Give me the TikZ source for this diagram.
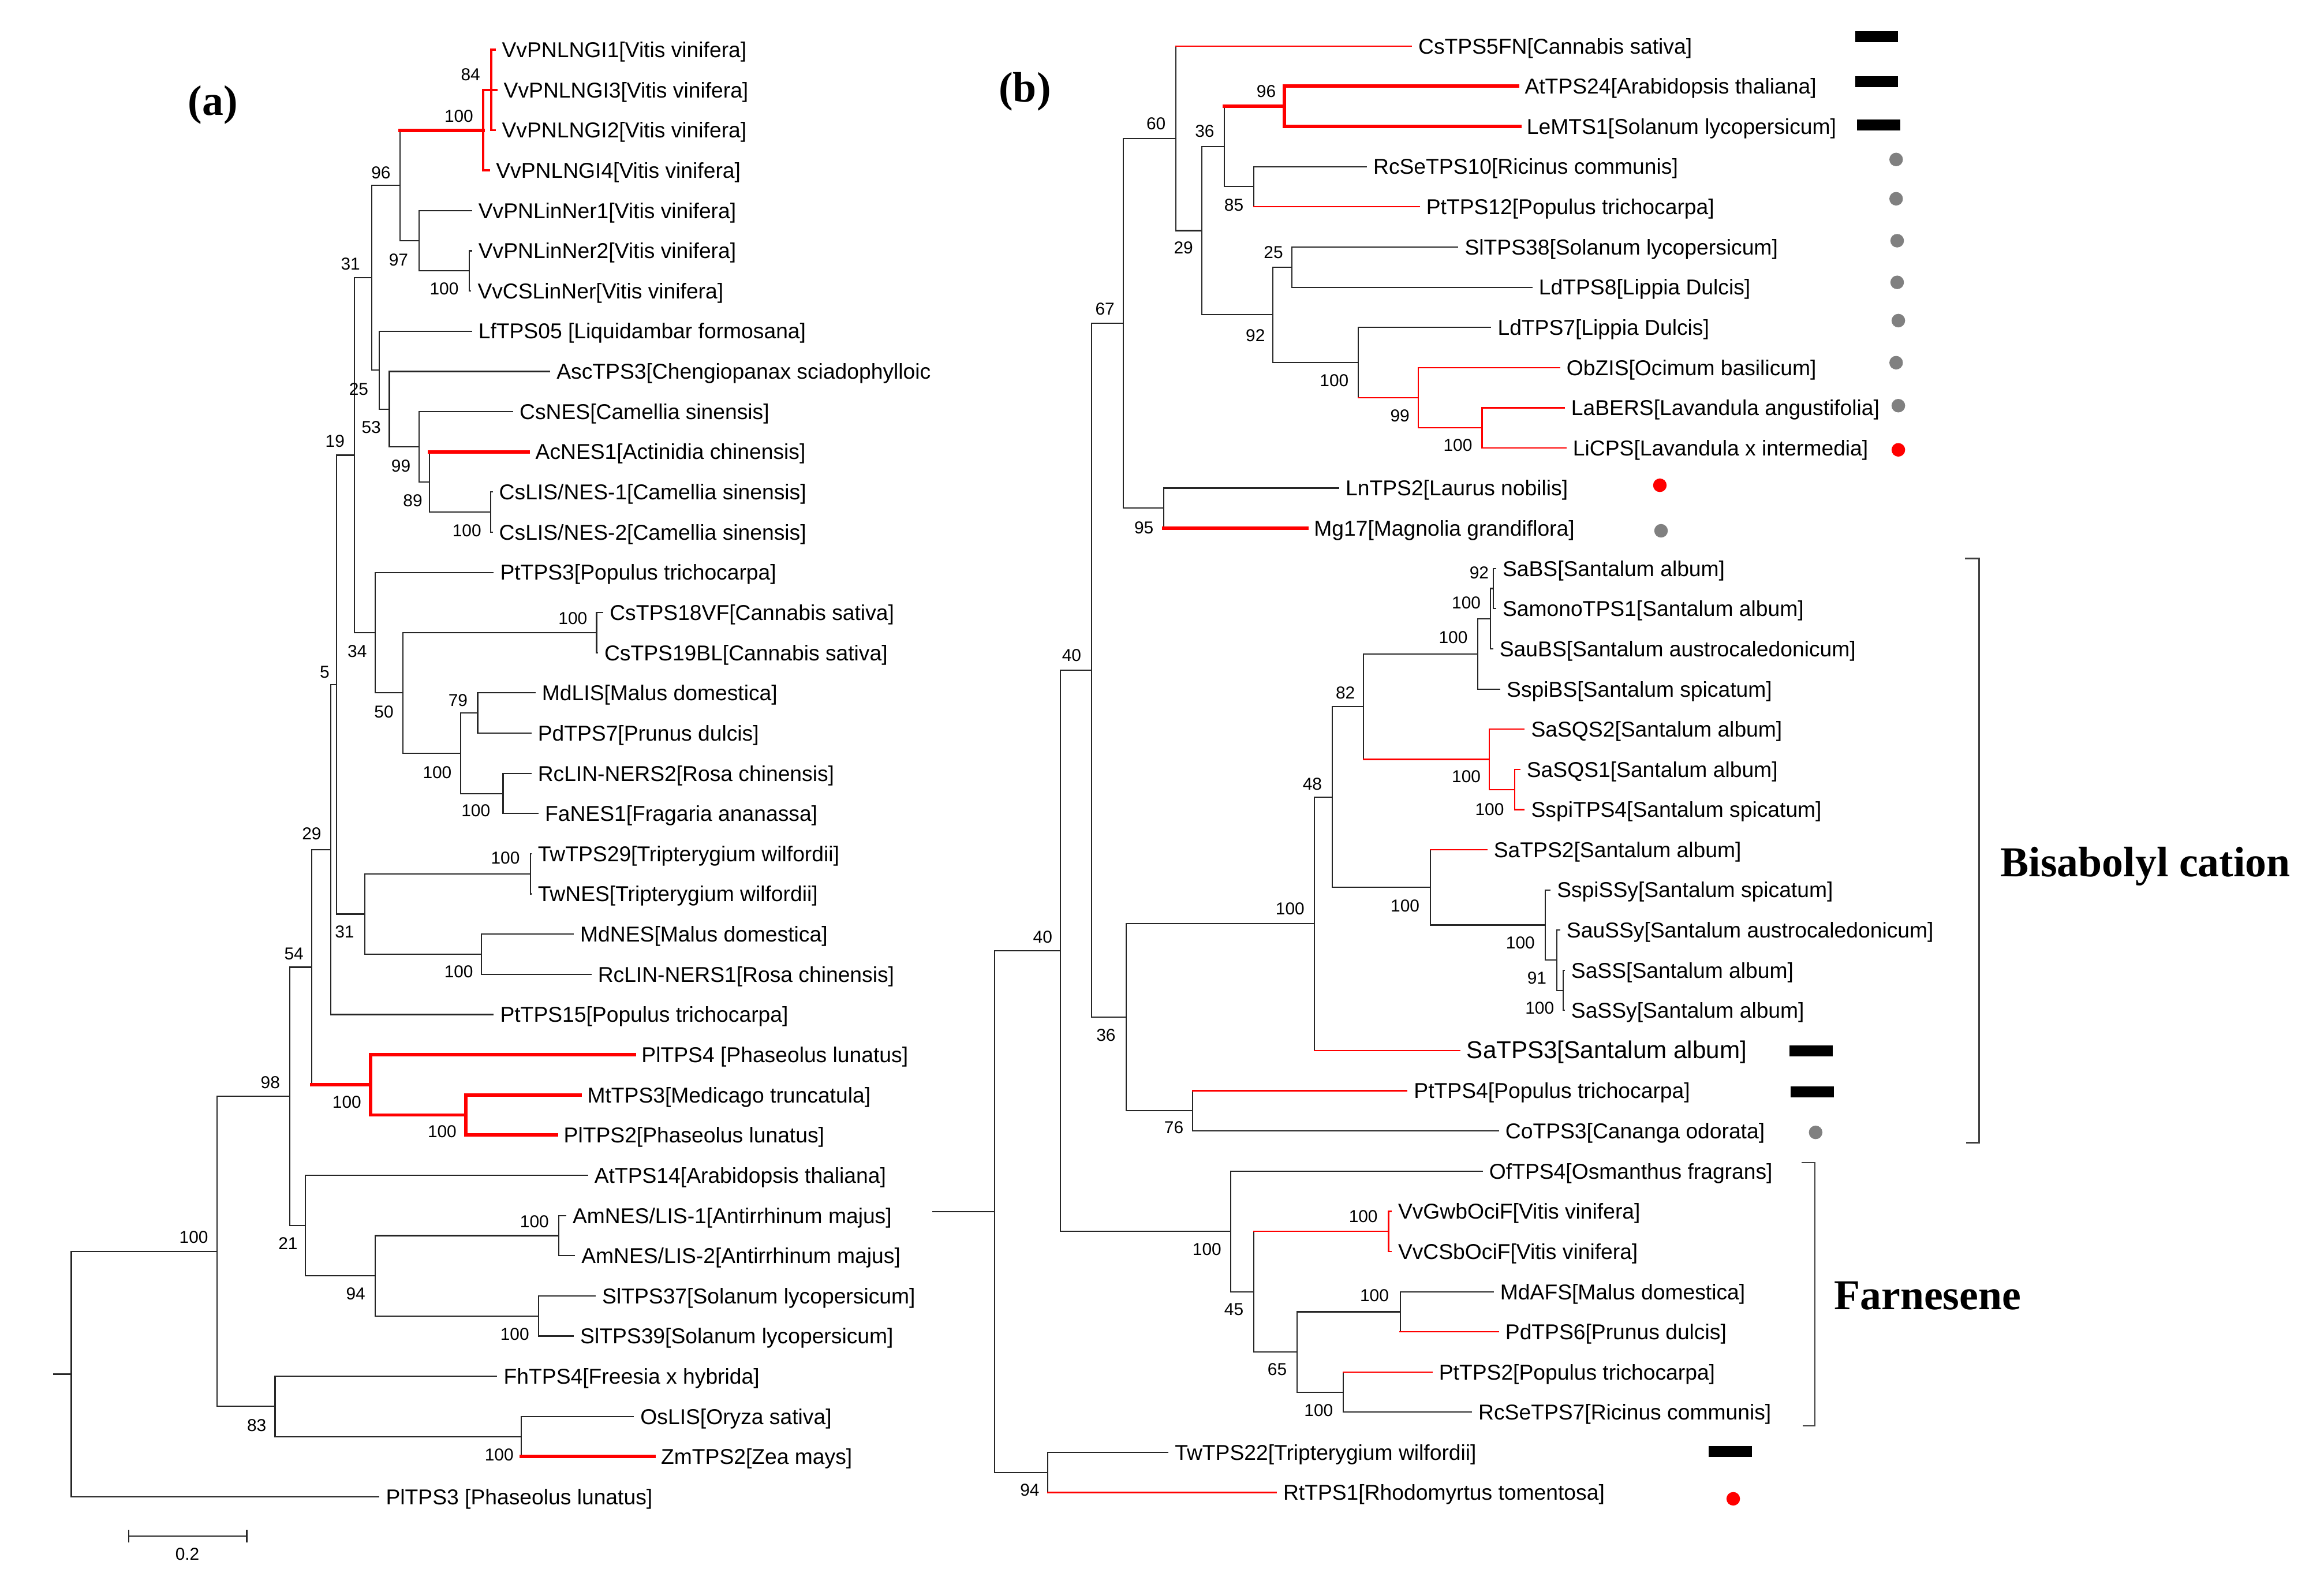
\documentclass[tikz,border=0pt]{standalone}
\usepackage{fontspec}
\setmainfont{Liberation Sans}
\newfontfamily\headfont{Liberation Serif}
\begin{document}
\begin{tikzpicture}[x=0.025676cm,y=-0.025676cm,
    taxon/.style={anchor=west,inner xsep=3.3pt,inner ysep=0pt,text height=7.6pt,text depth=0pt,font=\fontsize{10.6}{12}\selectfont},
    boot/.style={inner sep=0pt,font=\fontsize{8.5}{10}\selectfont},
    branch/.style={draw=black!85,line width=0.6pt,line cap=rect},
    redthin/.style={draw=red,line width=0.65pt,line cap=rect},
    redmid/.style={draw=red,line width=1.1pt,line cap=rect},
    redthick/.style={draw=red,line width=1.7pt,line cap=rect},
    bracket/.style={draw=black!75,line width=0.7pt},
    blackbar/.style={fill=black,minimum width=0.745cm,minimum height=0.19cm,inner sep=0pt},
    graydot/.style={circle,fill=black!50,minimum size=0.235cm,inner sep=0pt},
    reddot/.style={circle,fill=red,minimum size=0.235cm,inner sep=0pt},
    panel/.style={font=\headfont\bfseries\fontsize{21}{24}\selectfont,inner sep=0pt}]
\useasboundingbox (0,0) rectangle (1568,1068.7);

\node[panel] (pa) at (143.6,70.8) {(a)};
\node[panel] (pb) at (691.5,62) {(b)};

\node[taxon] (l1) at (333.9,33.6) {VvPNLNGI1[Vitis vinifera]};
\node[taxon] (l2) at (335.1,60.7) {VvPNLNGI3[Vitis vinifera]};
\node[taxon] (l3) at (333.9,87.8) {VvPNLNGI2[Vitis vinifera]};
\node[taxon] (l4) at (329.9,115.0) {VvPNLNGI4[Vitis vinifera]};
\node[taxon] (l5) at (318.0,142.1) {VvPNLinNer1[Vitis vinifera]};
\node[taxon] (l6) at (318.0,169.2) {VvPNLinNer2[Vitis vinifera]};
\node[taxon] (l7) at (317.5,196.3) {VvCSLinNer[Vitis vinifera]};
\node[taxon] (l8) at (318.0,223.4) {LfTPS05 [Liquidambar formosana]};
\begin{scope}
\clip (0,0) rectangle (628,1068.7);
\node[taxon] (l9) at (370.8,250.6) {AscTPS3[Chengiopanax sciadophylloic};
\end{scope}
\node[taxon] (l10) at (345.8,277.7) {CsNES[Camellia sinensis]};
\node[taxon] (l11) at (356.5,304.8) {AcNES1[Actinidia chinensis]};
\node[taxon] (l12) at (332.0,331.9) {CsLIS/NES-1[Camellia sinensis]};
\node[taxon] (l13) at (332.0,359.0) {CsLIS/NES-2[Camellia sinensis]};
\node[taxon] (l14) at (332.7,386.2) {PtTPS3[Populus trichocarpa]};
\node[taxon] (l15) at (406.6,413.3) {CsTPS18VF[Cannabis sativa]};
\node[taxon] (l16) at (403.0,440.4) {CsTPS19BL[Cannabis sativa]};
\node[taxon] (l17) at (360.9,467.5) {MdLIS[Malus domestica]};
\node[taxon] (l18) at (358.1,494.6) {PdTPS7[Prunus dulcis]};
\node[taxon] (l19) at (358.1,521.8) {RcLIN-NERS2[Rosa chinensis]};
\node[taxon] (l20) at (362.9,548.9) {FaNES1[Fragaria ananassa]};
\node[taxon] (l21) at (358.1,576.0) {TwTPS29[Tripterygium wilfordii]};
\node[taxon] (l22) at (358.1,603.1) {TwNES[Tripterygium wilfordii]};
\node[taxon] (l23) at (386.7,630.2) {MdNES[Malus domestica]};
\node[taxon] (l24) at (398.6,657.4) {RcLIN-NERS1[Rosa chinensis]};
\node[taxon] (l25) at (332.7,684.5) {PtTPS15[Populus trichocarpa]};
\node[taxon] (l26) at (428.1,711.6) {PlTPS4 [Phaseolus lunatus]};
\node[taxon] (l27) at (391.5,738.7) {MtTPS3[Medicago truncatula]};
\node[taxon] (l28) at (375.6,765.8) {PlTPS2[Phaseolus lunatus]};
\node[taxon] (l29) at (396.3,793.0) {AtTPS14[Arabidopsis thaliana]};
\node[taxon] (l30) at (381.6,820.1) {AmNES/LIS-1[Antirrhinum majus]};
\node[taxon] (l31) at (387.5,847.2) {AmNES/LIS-2[Antirrhinum majus]};
\node[taxon] (l32) at (401.5,874.3) {SlTPS37[Solanum lycopersicum]};
\node[taxon] (l33) at (386.7,901.4) {SlTPS39[Solanum lycopersicum]};
\node[taxon] (l34) at (335.1,928.6) {FhTPS4[Freesia x hybrida]};
\node[taxon] (l35) at (427.3,955.7) {OsLIS[Oryza sativa]};
\node[taxon] (l36) at (441.2,982.8) {ZmTPS2[Zea mays]};
\node[taxon] (l37) at (255.6,1009.9) {PlTPS3 [Phaseolus lunatus]};

\coordinate (aStub) at (36.2,927.1);
\coordinate (aRoot) at (48.1,927.1);
\coordinate (a100) at (146.6,844.3);
\coordinate (a98) at (195.5,739.7);
\coordinate (a83) at (185.6,948.9);
\coordinate (aOs) at (351.7,969.25);
\coordinate (a54) at (210.2,652.55);
\coordinate (a21) at (206.2,826.9);
\coordinate (a94) at (253.1,860.75);
\coordinate (aAm) at (377.1,833.65);
\coordinate (aSl) at (363.2,887.85);
\coordinate (a29) at (223,573.2);
\coordinate (aPl) at (250,731.9);
\coordinate (aMt) at (314.3,752.25);
\coordinate (a5) at (226.9,461.9);
\coordinate (a31b) at (246,616.7);
\coordinate (aTw) at (358,589.55);
\coordinate (aMd) at (324.7,643.8);
\coordinate (a19) at (239.2,307.1);
\coordinate (a31) at (250.8,187.4);
\coordinate (a96) at (269.8,125.1);
\coordinate (aVv4) at (326,87.85);
\coordinate (aVv3) at (331.4,60.7);
\coordinate (a97) at (282.6,162.4);
\coordinate (aLin) at (316.7,182.75);
\coordinate (a25) at (255.9,249.7);
\coordinate (a53) at (262.7,276.0);
\coordinate (a99) at (282.6,301.4);
\coordinate (a89) at (289.7,325.1);
\coordinate (aCs) at (331,345.45);
\coordinate (a34) at (253.2,426.85);
\coordinate (a50) at (271.8,467.5);
\coordinate (aCan) at (402.5,426.85);
\coordinate (aRos) at (310.8,508.2);
\coordinate (a79) at (322.3,481.05);
\coordinate (aFa) at (339.4,535.35);

\draw[branch] (aStub) -- (aRoot);
\draw[branch] (a100) -| (aRoot |- l37.west) -- (l37.west);
\draw[branch] (a98) -| (a100 |- a83) -- (a83);
\draw[branch] (a54) -| (a98 |- a21) -- (a21);
\draw[branch] (a29) -| (a54 |- aPl);
\draw[redthick] (a54 |- aPl) -- (aPl);
\draw[redthick] (l26.west) -| (aPl |- aMt) -- (aMt);
\draw[redthick] (l27.west) -| (aMt |- l28.west) -- (l28.west);
\draw[branch] (a5) -| (a29 |- l25.west) -- (l25.west);
\draw[branch] (a19) -| (a5 |- a31b) -- (a31b);
\draw[branch] (aTw) -| (a31b |- aMd) -- (aMd);
\draw[branch] (l21.west) -| (aTw |- l22.west) -- (l22.west);
\draw[branch] (l23.west) -| (aMd |- l24.west) -- (l24.west);
\draw[branch] (a31) -| (a19 |- a34) -- (a34);
\draw[branch] (l14.west) -| (a34 |- a50) -- (a50);
\draw[branch] (aCan) -| (a50 |- aRos) -- (aRos);
\draw[branch] (l15.west) -| (aCan |- l16.west) -- (l16.west);
\draw[branch] (a79) -| (aRos |- aFa) -- (aFa);
\draw[branch] (l17.west) -| (a79 |- l18.west) -- (l18.west);
\draw[branch] (l19.west) -| (aFa |- l20.west) -- (l20.west);
\draw[branch] (a96) -| (a31 |- a25) -- (a25);
\draw[branch] (a96 |- aVv4) |- (a97);
\draw[redthick] (a96 |- aVv4) -- (aVv4);
\draw[redmid] (aVv3) -| (aVv4 |- l4.west) -- (l4.west);
\draw[redmid] (l1.west) -| (aVv3 |- l3.west) -- (l3.west);
\draw[redmid] (aVv3 |- l2.west) -- (l2.west);
\draw[branch] (l5.west) -| (a97 |- aLin) -- (aLin);
\draw[branch] (l6.west) -| (aLin |- l7.west) -- (l7.west);
\draw[branch] (l8.west) -| (a25 |- a53) -- (a53);
\draw[branch] (l9.west) -| (a53 |- a99) -- (a99);
\draw[branch] (l10.west) -| (a99 |- a89) -- (a89);
\draw[branch] (a89 |- l11.west) |- (aCs);
\draw[redthick] (a89 |- l11.west) -- (l11.west);
\draw[branch] (l12.west) -| (aCs |- l13.west) -- (l13.west);
\draw[branch] (l29.west) -| (a21 |- a94) -- (a94);
\draw[branch] (aAm) -| (a94 |- aSl) -- (aSl);
\draw[branch] (l30.west) -| (aAm |- l31.west) -- (l31.west);
\draw[branch] (l32.west) -| (aSl |- l33.west) -- (l33.west);
\draw[branch] (l34.west) -| (a83 |- aOs) -- (aOs);
\draw[branch] (l35.west) -| (aOs |- l36.west);
\draw[redthick] (aOs |- l36.west) -- (l36.west);

\node[boot] (a84b) at (317.5,50.5) {84};
\node[boot] (aVv4b) at (309.6,78.4) {100};
\node[boot] (a96b) at (257,116.4) {96};
\node[boot] (a97b) at (268.9,175.5) {97};
\node[boot] (aLinb) at (299.7,194.9) {100};
\node[boot] (a31b1) at (236.5,178) {31};
\node[boot] (a25b) at (242,262.5) {25};
\node[boot] (a53b) at (250.5,288.2) {53};
\node[boot] (a99b) at (270.5,314.3) {99};
\node[boot] (a89b) at (278.5,337.8) {89};
\node[boot] (aCsb) at (315,358) {100};
\node[boot] (a19b) at (226,297.8) {19};
\node[boot] (a34b) at (241,439.5) {34};
\node[boot] (a50b) at (259,480.4) {50};
\node[boot] (aCanb) at (386.5,417.3) {100};
\node[boot] (aRosb) at (295,521) {100};
\node[boot] (a79b) at (309,472.6) {79};
\node[boot] (aFab) at (321,547) {100};
\node[boot] (a5b) at (219,453.4) {5};
\node[boot] (a29b) at (210.3,562.6) {29};
\node[boot] (a31b2) at (232.5,628.7) {31};
\node[boot] (aTwb) at (341,579) {100};
\node[boot] (aMdb) at (309.5,655.7) {100};
\node[boot] (a54b) at (198.3,643.5) {54};
\node[boot] (aPlb) at (234,743.5) {100};
\node[boot] (aMtb) at (298.3,763.5) {100};
\node[boot] (a98b) at (182.4,730.4) {98};
\node[boot] (a21b) at (194.3,839) {21};
\node[boot] (a94b) at (240,872.8) {94};
\node[boot] (aAmb) at (360.6,824.1) {100};
\node[boot] (aSlb) at (347.3,900) {100};
\node[boot] (a83b) at (173.2,961.5) {83};
\node[boot] (aOsb) at (336.8,981.6) {100};
\node[boot] (a100b) at (130.7,834.8) {100};

\draw[branch] (87,1032.4) -- (87,1040.4) (87,1036.4) -- (166.5,1036.4) (166.5,1032.4) -- (166.5,1040.4);
\node[boot] (sbar) at (126.4,1048.4) {0.2};

\node[taxon] (r1) at (952.2,31.1) {CsTPS5FN[Cannabis sativa]};
\node[taxon] (r2) at (1024.0,58.2) {AtTPS24[Arabidopsis thaliana]};
\node[taxon] (r3) at (1025.3,85.3) {LeMTS1[Solanum lycopersicum]};
\node[taxon] (r4) at (921.8,112.4) {RcSeTPS10[Ricinus communis]};
\node[taxon] (r5) at (957.5,139.5) {PtTPS12[Populus trichocarpa]};
\node[taxon] (r6) at (983.5,166.7) {SlTPS38[Solanum lycopersicum]};
\node[taxon] (r7) at (1033.5,193.8) {LdTPS8[Lippia Dulcis]};
\node[taxon] (r8) at (1005.7,220.9) {LdTPS7[Lippia Dulcis]};
\node[taxon] (r9) at (1052.2,248.0) {ObZIS[Ocimum basilicum]};
\node[taxon] (r10) at (1055.3,275.1) {LaBERS[Lavandula angustifolia]};
\node[taxon] (r11) at (1056.5,302.2) {LiCPS[Lavandula x intermedia]};
\node[taxon] (r12) at (903.1,329.3) {LnTPS2[Laurus nobilis]};
\node[taxon] (r13) at (881.8,356.4) {Mg17[Magnolia grandiflora]};
\node[taxon] (r14) at (1009,383.5) {SaBS[Santalum album]};
\node[taxon] (r15) at (1009,410.6) {SamonoTPS1[Santalum album]};
\node[taxon] (r16) at (1007,437.7) {SauBS[Santalum austrocaledonicum]};
\node[taxon] (r17) at (1011.8,464.9) {SspiBS[Santalum spicatum]};
\node[taxon] (r18) at (1028.3,492.0) {SaSQS2[Santalum album]};
\node[taxon] (r19) at (1025.3,519.1) {SaSQS1[Santalum album]};
\node[taxon] (r20) at (1028.3,546.2) {SspiTPS4[Santalum spicatum]};
\node[taxon] (r21) at (1003.1,573.3) {SaTPS2[Santalum album]};
\node[taxon] (r22) at (1045.7,600.4) {SspiSSy[Santalum spicatum]};
\node[taxon] (r23) at (1052.2,627.5) {SauSSy[Santalum austrocaledonicum]};
\node[taxon] (r24) at (1055.3,654.6) {SaSS[Santalum album]};
\node[taxon] (r25) at (1055.3,681.7) {SaSSy[Santalum album]};
\node[taxon,font=\fontsize{12}{14}\selectfont] (r26) at (984.8,708.8) {SaTPS3[Santalum album]};
\node[taxon] (r27) at (949.2,735.9) {PtTPS4[Populus trichocarpa]};
\node[taxon] (r28) at (1010.9,763.0) {CoTPS3[Cananga odorata]};
\node[taxon] (r29) at (1000.0,790.2) {OfTPS4[Osmanthus fragrans]};
\node[taxon] (r30) at (938.5,817.3) {VvGwbOciF[Vitis vinifera]};
\node[taxon] (r31) at (938.5,844.4) {VvCSbOciF[Vitis vinifera]};
\node[taxon] (r32) at (1007.4,871.5) {MdAFS[Malus domestica]};
\node[taxon] (r33) at (1010.9,898.6) {PdTPS6[Prunus dulcis]};
\node[taxon] (r34) at (966.1,925.7) {PtTPS2[Populus trichocarpa]};
\node[taxon] (r35) at (992.7,952.8) {RcSeTPS7[Ricinus communis]};
\node[taxon] (r36) at (787.9,979.9) {TwTPS22[Tripterygium wilfordii]};
\node[taxon] (r37) at (861.0,1007.0) {RtTPS1[Rhodomyrtus tomentosa]};

\coordinate (bStub) at (629.5,817.5);
\coordinate (bRoot) at (670.9,817.5);
\coordinate (b40b) at (715.6,641.5);
\coordinate (b94) at (706.9,993.45);
\coordinate (b40a) at (736.5,452.2);
\coordinate (bFa) at (830.4,830.85);
\coordinate (b67) at (757.8,218.1);
\coordinate (b36b) at (760,686.35);
\coordinate (b60) at (793.4,93.35);
\coordinate (b95) at (785.2,342.85);
\coordinate (b29) at (810.8,155.6);
\coordinate (b36) at (825.9,98.85);
\coordinate (b96) at (866.5,71.75);
\coordinate (b85) at (846,125.95);
\coordinate (b92) at (858.6,212.4);
\coordinate (b25) at (871.7,180.25);
\coordinate (bLd) at (916.4,244.6);
\coordinate (b99) at (957,268.3);
\coordinate (bLa) at (999.9,288.65);
\coordinate (bSa) at (886.9,623.25);
\coordinate (b48) at (899,537.7);
\coordinate (b82) at (919.9,476.7);
\coordinate (bBS) at (996.9,441.15);
\coordinate (bBS1) at (1005.6,417.4);
\coordinate (bBS2) at (1007.7,397.05);
\coordinate (bSQ) at (1004.7,512.3);
\coordinate (bSQ1) at (1022,532.65);
\coordinate (bTPS2) at (965.1,598.7);
\coordinate (bSS) at (1042.5,624.1);
\coordinate (bSS1) at (1050.3,647.8);
\coordinate (bSS2) at (1054.7,668.15);
\coordinate (b76) at (804.7,749.45);
\coordinate (b45) at (846,871.5);
\coordinate (bVv) at (936.9,830.85);
\coordinate (b65) at (875.2,912.15);
\coordinate (bMd) at (944.7,885.05);
\coordinate (bPt) at (906.4,939.25);

\draw[branch] (bStub) -- (bRoot);
\draw[branch] (b40b) -| (bRoot |- b94) -- (b94);
\draw[branch] (r36.west) -| (b94 |- r37.west);
\draw[redthin] (b94 |- r37.west) -- (r37.west);
\draw[branch] (b40a) -| (b40b |- bFa) -- (bFa);
\draw[branch] (b67) -| (b40a |- b36b) -- (b36b);
\draw[branch] (b60) -| (b67 |- b95) -- (b95);
\draw[branch] (b60 |- r1.west) |- (b29);
\draw[redthin] (b60 |- r1.west) -- (r1.west);
\draw[branch] (b36) -| (b29 |- b92) -- (b92);
\draw[branch] (b36 |- b96) |- (b85);
\draw[redthick] (b36 |- b96) -- (b96);
\draw[redthick] (r2.west) -| (b96 |- r3.west) -- (r3.west);
\draw[branch] (r4.west) -| (b85 |- r5.west);
\draw[redthin] (b85 |- r5.west) -- (r5.west);
\draw[branch] (b25) -| (b92 |- bLd) -- (bLd);
\draw[branch] (r6.west) -| (b25 |- r7.west) -- (r7.west);
\draw[branch] (r8.west) -| (bLd |- b99);
\draw[redthin] (bLd |- b99) -- (b99);
\draw[redthin] (r9.west) -| (b99 |- bLa) -- (bLa);
\draw[redthin] (r10.west) -| (bLa |- r11.west) -- (r11.west);
\draw[branch] (r12.west) -| (b95 |- r13.west);
\draw[redthick] (b95 |- r13.west) -- (r13.west);
\draw[branch] (bSa) -| (b36b |- b76) -- (b76);
\draw[branch] (b48) -| (bSa |- r26.west);
\draw[redthin] (bSa |- r26.west) -- (r26.west);
\draw[branch] (b82) -| (b48 |- bTPS2) -- (bTPS2);
\draw[branch] (bBS) -| (b82 |- bSQ);
\draw[redthin] (b82 |- bSQ) -- (bSQ);
\draw[branch] (bBS1) -| (bBS |- r17.west) -- (r17.west);
\draw[branch] (bBS2) -| (bBS1 |- r16.west) -- (r16.west);
\draw[branch] (r14.west) -| (bBS2 |- r15.west) -- (r15.west);
\draw[redthin] (r18.west) -| (bSQ |- bSQ1) -- (bSQ1);
\draw[redthin] (r19.west) -| (bSQ1 |- r20.west) -- (r20.west);
\draw[branch] (bTPS2 |- r21.west) |- (bSS);
\draw[redthin] (bTPS2 |- r21.west) -- (r21.west);
\draw[branch] (r22.west) -| (bSS |- bSS1) -- (bSS1);
\draw[branch] (r23.west) -| (bSS1 |- bSS2) -- (bSS2);
\draw[branch] (r24.west) -| (bSS2 |- r25.west) -- (r25.west);
\draw[branch] (b76 |- r27.west) |- (r28.west);
\draw[redthin] (b76 |- r27.west) -- (r27.west);
\draw[branch] (r29.west) -| (bFa |- b45) -- (b45);
\draw[branch] (b45 |- bVv) |- (b65);
\draw[redthin] (b45 |- bVv) -- (bVv);
\draw[redthin] (r30.west) -| (bVv |- r31.west) -- (r31.west);
\draw[branch] (bMd) -| (b65 |- bPt) -- (bPt);
\draw[branch] (r32.west) -| (bMd |- r33.west);
\draw[redthin] (bMd |- r33.west) -- (r33.west);
\draw[branch] (bPt |- r34.west) |- (r35.west);
\draw[redthin] (bPt |- r34.west) -- (r34.west);

\node[boot] (b60b) at (780,83.5) {60};
\node[boot] (b96b) at (854.3,61.5) {96};
\node[boot] (b36b1) at (812.8,88.5) {36};
\node[boot] (b85b) at (832.5,138.4) {85};
\node[boot] (b29b) at (798.5,167.1) {29};
\node[boot] (b25b) at (859.2,170.4) {25};
\node[boot] (b67b) at (745.5,208.4) {67};
\node[boot] (b92b) at (847,226.2) {92};
\node[boot] (bLdb) at (900.2,256.6) {100};
\node[boot] (b99b) at (944.5,280.4) {99};
\node[boot] (bLab) at (983.6,300.4) {100};
\node[boot] (b95b) at (771.8,356) {95};
\node[boot] (bBS2b) at (998,386.5) {92};
\node[boot] (bBS1b) at (989.3,406.5) {100};
\node[boot] (bBSb) at (980.5,430) {100};
\node[boot] (b40ab) at (723,442.1) {40};
\node[boot] (b82b) at (907.7,467.3) {82};
\node[boot] (bSQb) at (989.3,523.8) {100};
\node[boot] (b48b) at (885.4,528.8) {48};
\node[boot] (bSQ1b) at (1005,546) {100};
\node[boot] (bSab) at (870.4,613) {100};
\node[boot] (bTPS2b) at (948,611.3) {100};
\node[boot] (bSSb) at (1025.8,636) {100};
\node[boot] (b40bb) at (703.5,632.2) {40};
\node[boot] (bSS1b) at (1036.9,660) {91};
\node[boot] (bSS2b) at (1038.8,680) {100};
\node[boot] (b36b2) at (746.2,698.3) {36};
\node[boot] (b76b) at (792,760.9) {76};
\node[boot] (bFab) at (814.3,842.7) {100};
\node[boot] (bVvb) at (919.8,820.5) {100};
\node[boot] (b45b) at (832.5,883.3) {45};
\node[boot] (bMdb) at (927.3,874.1) {100};
\node[boot] (b65b) at (861.7,924) {65};
\node[boot] (bPtb) at (889.7,951.7) {100};
\node[boot] (b94b) at (694.8,1005.3) {94};

\node[blackbar] (m1) at (1266.1,24.6) {};
\node[blackbar] (m2) at (1266.1,55.2) {};
\node[blackbar] (m3) at (1267.5,84.5) {};
\node[graydot] (m4) at (1279.3,107.6) {};
\node[graydot] (m5) at (1279.3,134.1) {};
\node[graydot] (m6) at (1280,162.4) {};
\node[graydot] (m7) at (1280,190.5) {};
\node[graydot] (m8) at (1280.8,216.3) {};
\node[graydot] (m9) at (1279.3,244.7) {};
\node[graydot] (m10) at (1280.8,273.7) {};
\node[reddot] (m11) at (1280.8,303.5) {};
\node[reddot] (m12) at (1119.9,327.4) {};
\node[graydot] (m13) at (1120.7,358.1) {};
\node[blackbar] (m26) at (1221.9,708.9) {};
\node[blackbar] (m27) at (1222.7,736.8) {};
\node[graydot] (m28) at (1225,764) {};
\node[blackbar] (m36) at (1167.5,979.4) {};
\node[reddot] (m37) at (1169.4,1011.2) {};

\draw[bracket] (1325.9,376.8) -- (1335.3,376.8) -- (1335.3,771) -- (1326.4,771);
\draw[bracket] (1215.6,784.4) -- (1224.5,784.4) -- (1224.5,961.9) -- (1216.4,961.9);
\node[panel,anchor=west] (bis) at (1349.4,584.7) {Bisabolyl cation};
\node[panel,anchor=west] (far) at (1237.2,874.4) {Farnesene};
\end{tikzpicture}
\end{document}
